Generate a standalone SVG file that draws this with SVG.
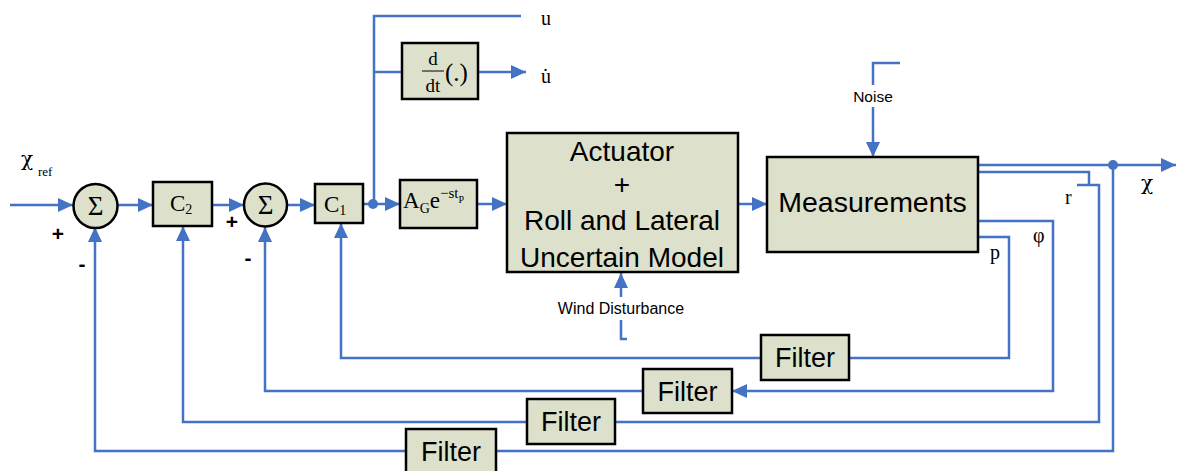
<svg xmlns="http://www.w3.org/2000/svg" width="1178" height="471" viewBox="0 0 1178 471">
<defs>
<marker id="ar" markerUnits="userSpaceOnUse" markerWidth="16" markerHeight="14" refX="15" refY="7" orient="auto">
<path d="M0,0 L15,7 L0,14 z" fill="#4472C4"/>
</marker>
<style>
.ln{fill:none;stroke:#4472C4;stroke-width:2.5}
.bx{fill:#DDE1CB;stroke:#000;stroke-width:2.5}
.sf{font-family:"Liberation Serif",serif;fill:#000}
.ss{font-family:"Liberation Sans",Arial,sans-serif;fill:#000}
.chi{font-family:"DejaVu Serif",serif;fill:#000}
.dot{fill:#4472C4}
</style>
</defs>
<rect width="1178" height="471" fill="#fff"/>

<g id="connectors">
<path class="ln" d="M10,205 H73" marker-end="url(#ar)"/>
<path class="ln" d="M118,205 H153" marker-end="url(#ar)"/>
<path class="ln" d="M212,205 H244" marker-end="url(#ar)"/>
<path class="ln" d="M287,205 H315" marker-end="url(#ar)"/>
<path class="ln" d="M363,204 H400" marker-end="url(#ar)"/>
<path class="ln" d="M477,204 H507" marker-end="url(#ar)"/>
<path class="ln" d="M738,204 H767" marker-end="url(#ar)"/>
<path class="ln" d="M374,204 V16 H521"/>
<path class="ln" d="M374,72 H402"/>
<path class="ln" d="M478,72 H526" marker-end="url(#ar)"/>
<path class="ln" d="M900,63 H873 V85"/>
<path class="ln" d="M873,107 V157" marker-end="url(#ar)"/>
<path class="ln" d="M621,297 V273" marker-end="url(#ar)"/>
<path class="ln" d="M621,320 V339 H627"/>
<path class="ln" d="M978,165 H1176" marker-end="url(#ar)"/>
<circle class="dot" cx="1113" cy="165" r="5"/>
<circle class="dot" cx="373" cy="204" r="5"/>
<path class="ln" d="M978,237 H1009 V358 H849"/>
<path class="ln" d="M761,358 H341 V223" marker-end="url(#ar)"/>
<path class="ln" d="M978,221 H1053 V391 H732" marker-end="url(#ar)"/>
<path class="ln" d="M643,391 H265 V227" marker-end="url(#ar)"/>
<path class="ln" d="M978,172 H1089 V185 M1077,185 H1099 V422 H615"/>
<path class="ln" d="M527,422 H183 V226" marker-end="url(#ar)"/>
<path class="ln" d="M1113,165 V451 H496"/>
<path class="ln" d="M406,451 H95 V227" marker-end="url(#ar)"/>
</g>

<g id="sum1">
<circle class="bx" cx="95.5" cy="206" r="22"/>
<text class="sf" x="95.5" y="215" font-size="27" text-anchor="middle">Σ</text>
</g>
<g id="sum2">
<circle class="bx" cx="265.5" cy="205" r="21.5"/>
<text class="sf" x="265.5" y="214" font-size="27" text-anchor="middle">Σ</text>
</g>
<g id="C2">
<rect class="bx" x="153" y="182" width="59" height="44"/>
<text class="sf" x="170" y="211" font-size="23">C<tspan font-size="14" dy="3">2</tspan></text>
</g>
<g id="C1">
<rect class="bx" x="315" y="184" width="48" height="39"/>
<text class="sf" x="324" y="212" font-size="23">C<tspan font-size="14" dy="3">1</tspan></text>
</g>
<g id="delay">
<rect class="bx" x="400" y="180" width="77" height="48"/>
<text class="sf" x="403" y="208" font-size="23">A<tspan font-size="14" dy="5">G</tspan><tspan dy="-5">e</tspan><tspan font-size="15" dy="-10">−st</tspan><tspan font-size="10" dy="5">P</tspan></text>
</g>
<g id="deriv">
<rect class="bx" x="402" y="43" width="76" height="56"/>
<text class="sf" x="433" y="65" font-size="19" text-anchor="middle">d</text>
<line x1="422" y1="71" x2="444" y2="71" stroke="#000" stroke-width="1"/>
<text class="sf" x="433" y="92" font-size="19" text-anchor="middle">dt</text>
<text class="sf" x="445" y="81" font-size="25">(.)</text>
</g>
<g id="actuator">
<rect class="bx" x="507" y="133" width="231" height="139"/>
<text class="ss" x="622" y="161" font-size="28" text-anchor="middle">Actuator</text>
<text class="ss" x="622" y="194" font-size="28" text-anchor="middle">+</text>
<text class="ss" x="622" y="230" font-size="28" text-anchor="middle">Roll and Lateral</text>
<text class="ss" x="622" y="267" font-size="28" text-anchor="middle">Uncertain Model</text>
</g>
<g id="measurements">
<rect class="bx" x="767" y="157" width="211" height="95"/>
<text class="ss" x="872.5" y="212" font-size="28.5" text-anchor="middle">Measurements</text>
</g>
<g id="filter1">
<rect class="bx" x="761" y="335" width="88" height="45"/>
<text class="ss" x="805" y="367" font-size="27" text-anchor="middle">Filter</text>
</g>
<g id="filter2">
<rect class="bx" x="643" y="369" width="89" height="44"/>
<text class="ss" x="687.5" y="401" font-size="27" text-anchor="middle">Filter</text>
</g>
<g id="filter3">
<rect class="bx" x="527" y="399" width="88" height="45"/>
<text class="ss" x="571" y="431" font-size="27" text-anchor="middle">Filter</text>
</g>
<g id="filter4">
<rect class="bx" x="406" y="429" width="90" height="45"/>
<text class="ss" x="451" y="461" font-size="27" text-anchor="middle">Filter</text>
</g>

<g id="labels">
<text class="chi" x="21" y="166" font-size="20">χ</text>
<text class="sf" x="38" y="176" font-size="13">ref</text>
<text class="ss" x="58" y="241" font-size="21" font-weight="bold" text-anchor="middle">+</text>
<text class="ss" x="82" y="271" font-size="21" font-weight="bold" text-anchor="middle">-</text>
<text class="ss" x="232" y="229" font-size="21" font-weight="bold" text-anchor="middle">+</text>
<text class="ss" x="248" y="265" font-size="21" font-weight="bold" text-anchor="middle">-</text>
<text class="sf" x="541" y="25" font-size="20">u</text>
<text class="sf" x="541" y="83" font-size="20">u̇</text>
<text class="chi" x="1141" y="190" font-size="20">χ</text>
<text class="sf" x="1065" y="204" font-size="20">r</text>
<text class="sf" x="1033" y="242" font-size="20">φ</text>
<text class="sf" x="990" y="259" font-size="20">p</text>
<text class="ss" x="873" y="102" font-size="15.5" text-anchor="middle">Noise</text>
<text class="ss" x="621" y="314" font-size="16" text-anchor="middle">Wind Disturbance</text>
</g>
</svg>
